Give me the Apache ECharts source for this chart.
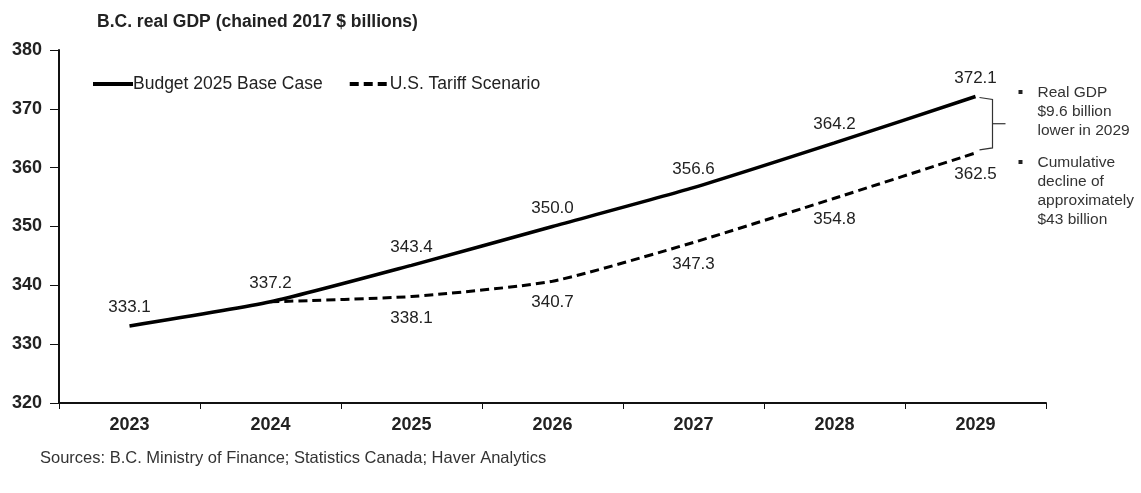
<!DOCTYPE html>
<html>
<head>
<meta charset="utf-8">
<script src="https://cdn.jsdelivr.net/npm/echarts@6/dist/echarts.min.js"></script>
<style>
  html, body { margin: 0; padding: 0; background: #fff; }
  #chart { width: 1141px; height: 493px; }
</style>
</head>
<body>
<div id="chart"></div>
<script>
// B.C. real GDP outlook, chained 2017 $ billions
const years = ['2023', '2024', '2025', '2026', '2027', '2028', '2029'];
const baseCase = [333.1, 337.2, 343.4, 350.0, 356.6, 364.2, 372.1];
const tariffScenario = [null, 337.2, 338.1, 340.7, 347.3, 354.8, 362.5];
const yTicks = [320, 330, 340, 350, 360, 370, 380];
const noteLines1 = ['Real GDP', '$9.6 billion', 'lower in 2029'];
const noteLines2 = ['Cumulative', 'decline of', 'approximately', '$43 billion'];

const FONT = '"Liberation Sans", Arial, sans-serif';
const chart = echarts.init(document.getElementById('chart'), null, { renderer: 'canvas' });

const labelStyle = {
  show: true,
  fontFamily: FONT,
  fontSize: 17,
  color: '#222',
  formatter: p => p.value.toFixed(1)
};

chart.setOption({
  animation: false,
  backgroundColor: '#fff',
  title: {
    text: 'B.C. real GDP (chained 2017 $ billions)',
    left: 92, top: 8,
    textStyle: { fontFamily: FONT, fontSize: 17.5, fontWeight: 'bold', color: '#222' }
  },
  legend: {
    left: 86, top: 70,
    itemWidth: 40, itemHeight: 14, itemGap: 25,
    itemStyle: { opacity: 0 },
    lineStyle: { width: 4 },
    textStyle: { fontFamily: FONT, fontSize: 17.5, color: '#222', padding: [0, 0, 0, -5] },
    data: ['Budget 2025 Base Case', 'U.S. Tariff Scenario']
  },
  grid: { left: 59, right: 95, top: 50, bottom: 90, containLabel: false },
  xAxis: {
    type: 'category',
    data: years,
    boundaryGap: true,
    axisLine: { lineStyle: { color: '#111', width: 2 } },
    axisTick: { show: true, length: 6, lineStyle: { color: '#111', width: 1 } },
    axisLabel: { fontFamily: FONT, fontSize: 18, fontWeight: 'bold', color: '#222', margin: 13 }
  },
  yAxis: {
    type: 'value',
    min: yTicks[0], max: yTicks[yTicks.length - 1], interval: 10,
    axisLine: { show: true, lineStyle: { color: '#111', width: 2 } },
    axisTick: { show: true, inside: false, length: 9, lineStyle: { color: '#111', width: 1 } },
    splitLine: { show: false },
    axisLabel: { fontFamily: FONT, fontSize: 18, fontWeight: 'bold', color: '#222', margin: 17 }
  },
  series: [
    {
      name: 'Budget 2025 Base Case',
      type: 'line',
      data: baseCase,
      symbol: 'circle',
      symbolSize: 0,
      showSymbol: true,
      smooth: 0.2,
      lineStyle: { color: '#000', width: 3.5 },
      itemStyle: { color: '#000' },
      label: Object.assign({}, labelStyle, { position: 'top', distance: 10 }),
      z: 3
    },
    {
      name: 'U.S. Tariff Scenario',
      type: 'line',
      data: tariffScenario,
      symbol: 'circle',
      symbolSize: 0,
      showSymbol: true,
      smooth: 0.2,
      lineStyle: { color: '#000', width: 3, type: [9, 5] },
      itemStyle: { color: '#000' },
      label: Object.assign({}, labelStyle, {
        position: 'bottom', distance: 13,
        formatter: p => (p.dataIndex === 1 ? '' : p.value.toFixed(1))
      }),
      z: 2
    }
  ]
});

// Side note with a bracket spanning the 2029 gap between the two scenarios
function drawNote() {
  const last = years.length - 1;
  const top = chart.convertToPixel({ gridIndex: 0 }, [last, baseCase[last]]);
  const bot = chart.convertToPixel({ gridIndex: 0 }, [last, tariffScenario[last]]);
  const bx = top[0] + 17;
  const y1 = top[1] + 1, y2 = bot[1] - 3, ym = (y1 + y2) / 2;
  const textX = bx + 45;
  const lh = 19;
  const elements = [
    {
      type: 'polyline',
      shape: { points: [[bx - 13, y1], [bx, y1 + 2], [bx, y2 - 2], [bx - 13, y2]] },
      style: { stroke: '#333', lineWidth: 1.2, fill: null }
    },
    {
      type: 'line',
      shape: { x1: bx, y1: ym, x2: bx + 13, y2: ym },
      style: { stroke: '#333', lineWidth: 1.2 }
    }
  ];
  const block = (lines, y0) => {
    elements.push({ type: 'rect', shape: { x: textX - 19, y: y0 - 3, width: 4, height: 4 },
      style: { fill: '#222' } });
    lines.forEach((t, i) => elements.push({
      type: 'text', x: textX, y: y0 + i * lh,
      style: { text: t, fontFamily: FONT, fontSize: 15.5, fill: '#333', textVerticalAlign: 'middle' }
    }));
  };
  block(noteLines1, 93);
  block(noteLines2, 163);
  elements.push({
    type: 'text', x: 40, y: 458,
    style: { text: 'Sources: B.C. Ministry of Finance; Statistics Canada; Haver Analytics',
      fontFamily: FONT, fontSize: 16.5, fill: '#333', textVerticalAlign: 'middle' }
  });
  chart.setOption({ graphic: { elements } });
}
drawNote();
</script>
</body>
</html>
